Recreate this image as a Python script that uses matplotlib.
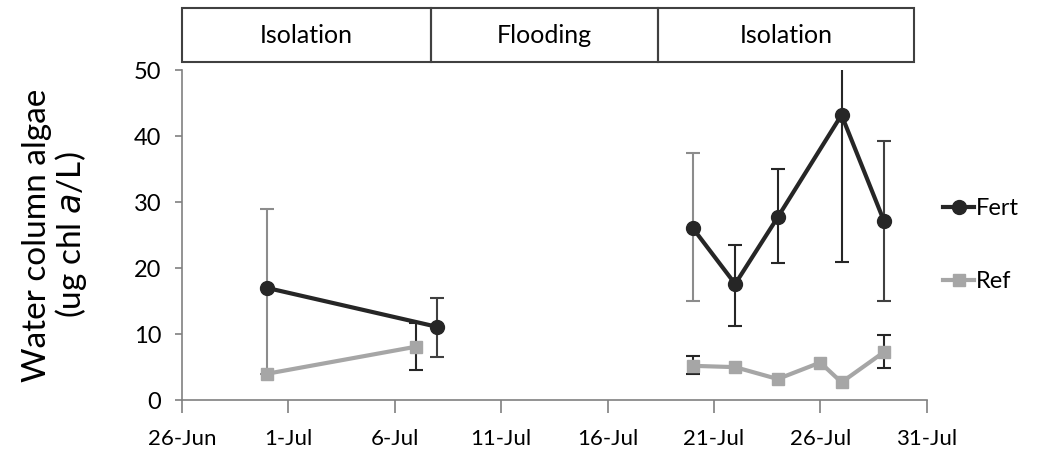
import numpy as np
import matplotlib
matplotlib.use("Agg")
import matplotlib.pyplot as plt
import matplotlib.dates as mdates
from matplotlib.patches import Rectangle

plt.rcParams['font.family'] = ['Lato', 'DejaVu Sans']

# data
fert_dates = ['2012-06-30', '2012-07-08', '2012-07-20', '2012-07-22', '2012-07-24', '2012-07-27', '2012-07-29']
fert_vals = [17.0, 11.1, 26.1, 17.6, 27.7, 43.2, 27.1]
fert_lo = [4.0, 6.6, 15.0, 11.2, 20.7, 21.0, 15.0]
fert_hi = [29.0, 15.4, 37.5, 23.5, 35.0, 52.0, 39.3]
fert_ecol = ['#8c8c8c', '#404040', '#8c8c8c', '#262626', '#262626', '#262626', '#404040']

ref_dates = ['2012-06-30', '2012-07-07', '2012-07-20', '2012-07-22', '2012-07-24', '2012-07-26', '2012-07-27', '2012-07-29']
ref_vals = [4.0, 8.1, 5.2, 5.0, 3.2, 5.7, 2.7, 7.3]
ref_err_dates = ['2012-07-07', '2012-07-20', '2012-07-29']
ref_err_vals = [8.1, 5.2, 7.3]
ref_err_lo = [4.5, 4.0, 4.9]
ref_err_hi = [11.7, 6.7, 9.8]

# phases shown in the boxes above the plot
phase_names = ['Isolation', 'Flooding', 'Isolation']
phase_edges = ['2012-06-26', '2012-07-07 17:00', '2012-07-18 09:00', '2012-07-30 10:00']

gap_after = np.datetime64('2012-07-10')  # no sampling during flooding

fert_x = np.array(fert_dates, dtype='datetime64[D]')
ref_x = np.array(ref_dates, dtype='datetime64[D]')

c_fert = '#262626'
c_ref = '#a6a6a6'

fig = plt.figure(figsize=(10.4, 4.61), dpi=100)
ax = fig.add_axes([0.175, 0.132, 0.716, 0.716])

# error bars first
for d, v, lo, hi, c in zip(fert_x, fert_vals, fert_lo, fert_hi, fert_ecol):
    ax.errorbar([d], [v], yerr=[[v - lo], [hi - v]], fmt='none', ecolor=c,
                elinewidth=1.5, capsize=5, capthick=1.5, zorder=2)
rx = np.array(ref_err_dates, dtype='datetime64[D]')
ax.errorbar(rx, ref_err_vals,
            yerr=[np.subtract(ref_err_vals, ref_err_lo), np.subtract(ref_err_hi, ref_err_vals)],
            fmt='none', ecolor='#262626', elinewidth=1.5, capsize=5, capthick=1.5, zorder=2)

# lines, broken across the flooding gap
for xs, ys, col, mk, ms, lab in [(ref_x, ref_vals, c_ref, 's', 9, 'Ref'),
                                 (fert_x, fert_vals, c_fert, 'o', 10, 'Fert')]:
    ys = np.array(ys)
    m = xs < gap_after
    ax.plot(xs[m], ys[m], color=col, lw=3, marker=mk, ms=ms, zorder=3)
    ax.plot(xs[~m], ys[~m], color=col, lw=3, marker=mk, ms=ms, zorder=3, label=lab)

ax.set_xlim(np.datetime64('2012-06-26'), np.datetime64('2012-07-31'))
ax.set_ylim(0, 50)
ax.set_yticks([0, 10, 20, 30, 40, 50])
ax.xaxis.set_major_locator(mdates.DayLocator(bymonthday=[1, 6, 11, 16, 21, 26, 31]))
ax.xaxis.set_major_formatter(mdates.DateFormatter('%-d-%b'))
for s in ['top', 'right']:
    ax.spines[s].set_visible(False)
for s in ['left', 'bottom']:
    ax.spines[s].set_color('#808080')
    ax.spines[s].set_linewidth(1.2)
ax.tick_params(axis='x', direction='out', length=9, width=1.2, color='#808080',
               labelsize=16, pad=12)
ax.tick_params(axis='y', direction='out', length=5, width=1.2, color='#808080',
               labelsize=17, pad=10)
ax.set_ylabel('Water column algae\n(ug chl $\\it{a}$/L)', fontsize=24, linespacing=1.05)
ax.yaxis.set_label_coords(-0.125, 0.5)

h, l = ax.get_legend_handles_labels()
ax.legend(h[::-1], l[::-1], loc='center left', bbox_to_anchor=(1.0, 0.47), frameon=False,
          fontsize=17, labelspacing=2.2, handlelength=1.3, handletextpad=0.1,
          borderaxespad=0.3)

# phase boxes on top
bx = fig.add_axes([0.175, 0.8655, 0.716, 0.117])
bx.set_xlim(ax.get_xlim())
bx.set_ylim(0, 1)
bx.axis('off')
edges = mdates.date2num(np.array(phase_edges, dtype='datetime64[m]'))
for name, a, b in zip(phase_names, edges[:-1], edges[1:]):
    bx.add_patch(Rectangle((a, 0), b - a, 1, fill=False, ec='#404040', lw=1.5, clip_on=False))
    bx.text((a + b) / 2, 0.5, name, ha='center', va='center', fontsize=18)

fig.savefig('out.png', dpi=100)
